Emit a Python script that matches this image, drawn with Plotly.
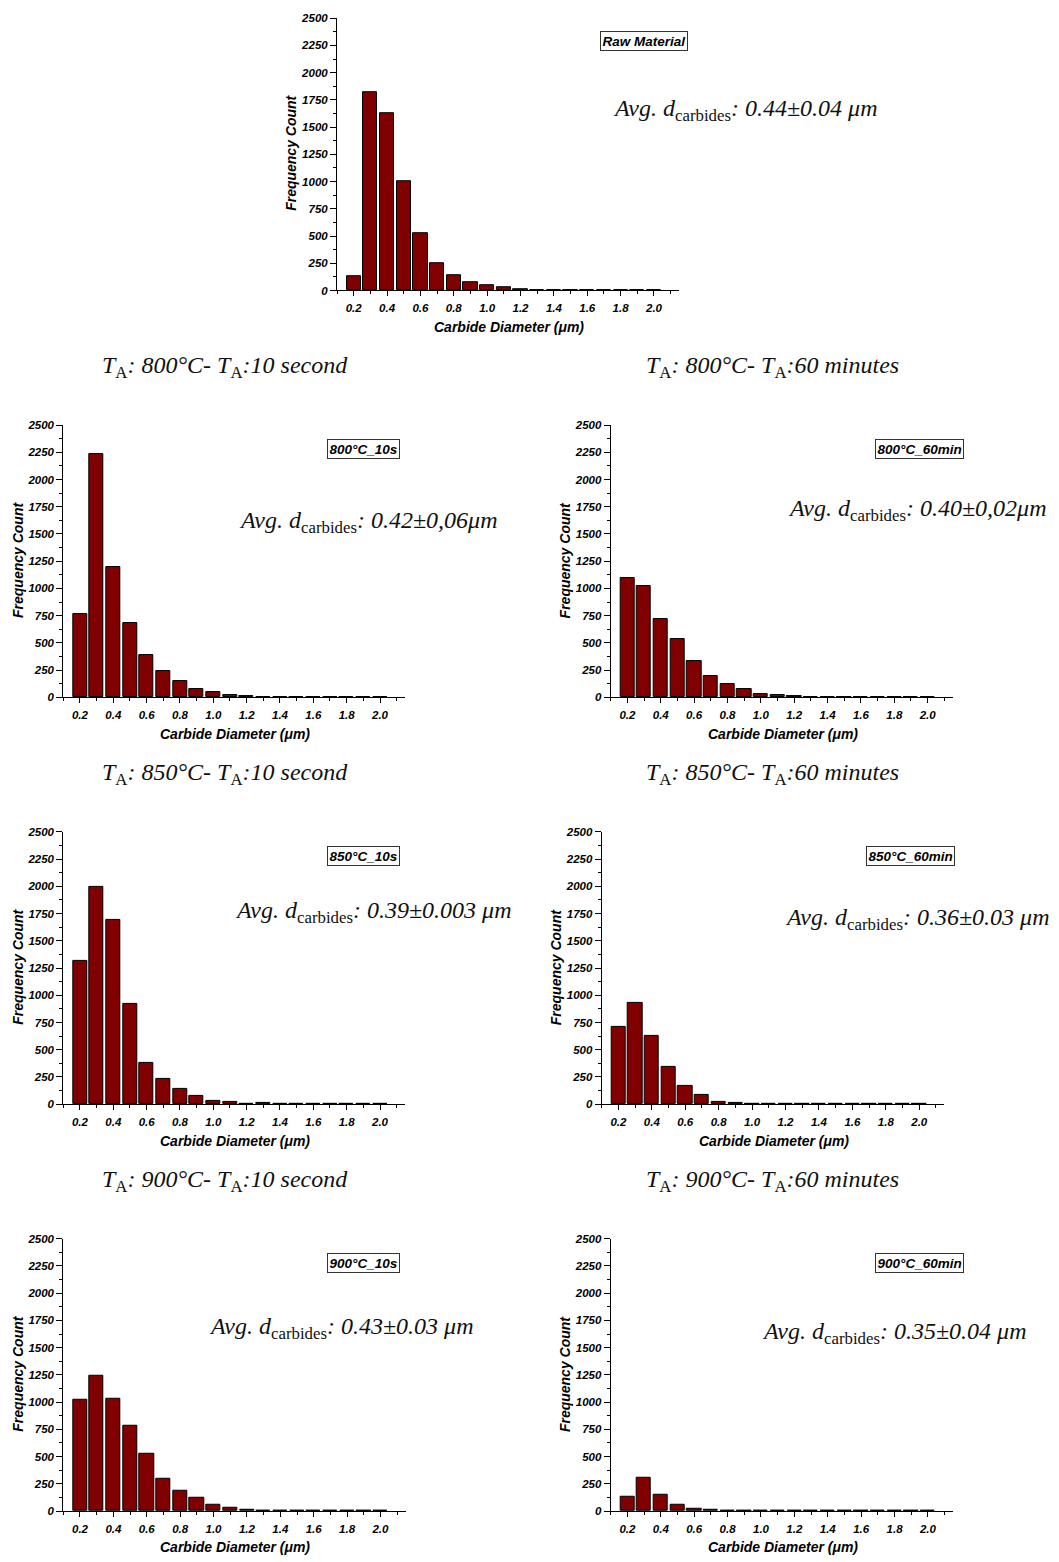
import plotly.graph_objects as go

W, H = 1059, 1562

# ---------------- data ----------------
bin_centers = [0.2, 0.3, 0.4, 0.5, 0.6, 0.7, 0.8, 0.9, 1.0, 1.1,
               1.2, 1.3, 1.4, 1.5, 1.6, 1.7, 1.8, 1.9, 2.0]

raw_material = [128, 1820, 1625, 1005, 528, 255, 144, 73, 45, 30, 9, 4, 3, 2, 2, 1, 0, 0, 0]
c800_10s = [769, 2237, 1200, 684, 386, 237, 149, 73, 52, 21, 12, 6, 3, 2, 2, 1, 1, 1, 2]
c800_60min = [1094, 1018, 720, 532, 331, 198, 122, 76, 33, 21, 8, 4, 3, 2, 2, 0, 0, 0, 0]
c850_10s = [1316, 1997, 1696, 918, 380, 231, 137, 76, 33, 18, 6, 8, 4, 3, 2, 1, 0, 0, 0]
c850_60min = [711, 930, 629, 346, 164, 82, 21, 15, 6, 5, 2, 3, 0, 0, 0, 0, 0, 0, 0]
c900_10s = [1021, 1240, 1033, 781, 529, 298, 182, 118, 58, 33, 12, 5, 4, 3, 1, 0, 0, 0, 0]
c900_60min = [128, 310, 152, 61, 18, 12, 5, 4, 0, 0, 0, 0, 0, 0, 0, 0, 0, 0, 0]

series = [raw_material, c800_10s, c800_60min, c850_10s, c850_60min, c900_10s, c900_60min]
box_labels = ["Raw Material", "800°C_10s", "800°C_60min", "850°C_10s",
              "850°C_60min", "900°C_10s", "900°C_60min"]
avg_labels = ["0.44±0.04 μm", "0.42±0,06μm", "0.40±0,02μm", "0.39±0.003 μm",
              "0.36±0.03 μm", "0.43±0.03 μm", "0.35±0.04 μm"]
row_titles = [("800°C", "10 second", "60 minutes"),
              ("850°C", "10 second", "60 minutes"),
              ("900°C", "10 second", "60 minutes")]

x_range = [0.1, 2.15]
y_range = [0, 2500]

# ---------------- layout geometry (pixels) ----------------
# (x_left, x_right, y_top, y_bottom) of each plot area
areas = [
    (337.0, 679.0, 12.3, 286.7),
    (63.3, 405.0, 422.3, 696.7),
    (610.7, 952.7, 422.3, 696.7),
    (63.3, 405.0, 832.3, 1106.7),
    (601.7, 944.3, 832.3, 1106.7),
    (63.3, 405.5, 1242.3, 1516.7),
    (610.7, 953.0, 1242.3, 1516.7),
]
box_pos = [(644, 35.7), (363.3, 446.2), (919.2, 446.2), (363.3, 856.2),
           (910.3, 856.2), (363.3, 1266.5), (919.2, 1266.5)]
avg_pos = [(745, 105), (368, 520), (916.7, 508), (372.5, 913),
           (916.7, 920), (341, 1332), (894, 1337)]
title_y = [364, 774, 1184]
title_x = [225, 772]


def fx(x):
    return x / W


def fy(y):
    return 1 - y / H


SANS = "Liberation Sans, Arial, sans-serif"
SERIF = "Liberation Serif, Times New Roman, serif"

fig = go.Figure()
annotations = []

for i, (vals, area) in enumerate(zip(series, areas)):
    xl, xr, yt, yb = area
    sfx = "" if i == 0 else str(i + 1)
    fig.add_trace(go.Bar(
        x=bin_centers, y=vals, width=0.085,
        marker=dict(color="#800000", line=dict(color="#000000", width=1)),
        xaxis="x" + sfx, yaxis="y" + sfx, showlegend=False,
    ))
    tickfont = dict(family=SANS, size=11.5, color="black", weight="bold", style="italic")
    fig.layout["xaxis" + sfx] = dict(
        domain=[fx(xl), fx(xr)], anchor="y" + sfx, range=x_range,
        tick0=0.2, dtick=0.2, tickformat=".1f", ticks="outside", ticklen=5,
        tickwidth=1, tickcolor="black", showline=True, linecolor="black",
        linewidth=1, showgrid=False, zeroline=False, tickfont=tickfont,
        ticklabelstandoff=2,
        minor=dict(dtick=0.1, tick0=0.1, ticks="outside", ticklen=3,
                   tickcolor="black", showgrid=False),
    )
    fig.layout["yaxis" + sfx] = dict(
        domain=[fy(yb), fy(yt)], anchor="x" + sfx, range=y_range,
        tick0=0, dtick=250, ticks="outside", ticklen=6, tickwidth=1,
        tickcolor="black", showline=True, linecolor="black", linewidth=1,
        showgrid=False, zeroline=False, tickfont=tickfont,
        ticklabelstandoff=0,
        minor=dict(dtick=125, ticks="outside", ticklen=3, tickcolor="black",
                   showgrid=False),
    )
    # axis titles
    annotations.append(dict(
        x=fx((xl + xr) / 2 + 1), y=fy(yb + 36.6), xref="paper", yref="paper",
        text="Carbide Diameter (μm)", showarrow=False,
        font=dict(family=SANS, size=14, color="black", weight="bold", style="italic"),
        xanchor="center", yanchor="middle",
    ))
    annotations.append(dict(
        x=fx(xl - 45.5), y=fy((yt + yb) / 2 - 1), xref="paper", yref="paper",
        text="Frequency Count", showarrow=False, textangle=-90,
        font=dict(family=SANS, size=14, color="black", weight="bold", style="italic"),
        xanchor="center", yanchor="middle",
    ))
    # boxed sample label
    bx, by = box_pos[i]
    annotations.append(dict(
        x=fx(bx), y=fy(by), xref="paper", yref="paper",
        text=box_labels[i], showarrow=False,
        font=dict(family=SANS, size=13.5, color="black", weight="bold", style="italic"),
        bordercolor="#333333", borderwidth=1, borderpad=1.5, bgcolor="white",
        xanchor="center", yanchor="middle",
    ))
    # average diameter label
    ax_, ay_ = avg_pos[i]
    annotations.append(dict(
        x=fx(ax_), y=fy(ay_), xref="paper", yref="paper",
        text="<i>Avg. d</i><sub>carbides</sub><i>: " + avg_labels[i] + "</i>",
        showarrow=False,
        font=dict(family=SERIF, size=24, color="#111111"),
        xanchor="center", yanchor="middle",
    ))

# row titles
for r, (temp, t1, t2) in enumerate(row_titles):
    for c, tt in enumerate([t1, t2]):
        annotations.append(dict(
            x=fx(title_x[c]), y=fy(title_y[r]), xref="paper", yref="paper",
            text="<i>T</i><sub>A</sub><i>: " + temp + "- T</i><sub>A</sub><i>:" + tt + "</i>",
            showarrow=False, font=dict(family=SERIF, size=24, color="#111111"),
            xanchor="center", yanchor="middle",
        ))

fig.update_layout(
    width=W, height=H, margin=dict(l=0, r=0, t=0, b=0),
    paper_bgcolor="white", plot_bgcolor="rgba(0,0,0,0)",
    annotations=annotations, bargap=0,
)

# remove the default 8px page margin so the figure sits at the page origin
fig.write_html("out.html",
               config={"displayModeBar": False},
               post_script="document.body.style.margin='0';document.body.style.overflow='hidden';")
